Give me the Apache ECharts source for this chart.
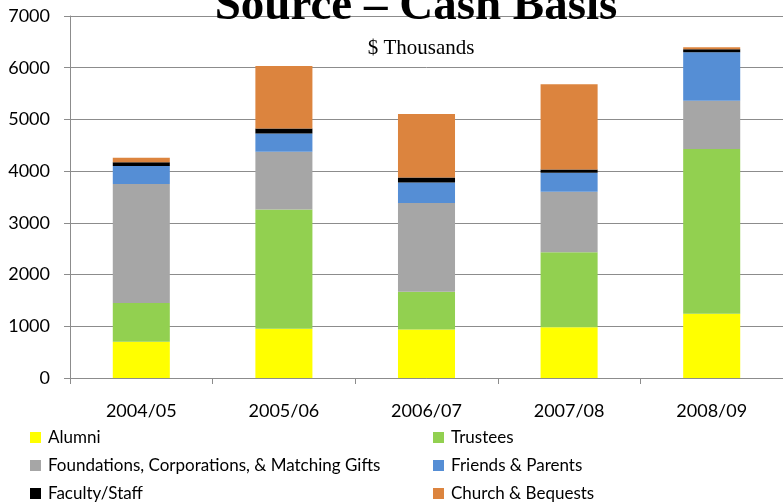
<!DOCTYPE html>
<html>
<head>
<meta charset="utf-8">
<script src="https://cdn.jsdelivr.net/npm/echarts@6/dist/echarts.min.js"></script>
<style>html,body{margin:0;padding:0;background:#fff;}#c{width:783px;height:503px;}</style>
</head>
<body>
<div id="c"></div>
<script>
var categories = ['2004/05', '2005/06', '2006/07', '2007/08', '2008/09'];
var alumni = [700, 950, 940, 980, 1240];
var trustees = [750, 2310, 730, 1450, 3190];
var foundations = [2300, 1115, 1715, 1170, 930];
var friends = [350, 355, 393, 368, 940];
var faculty = [70, 97, 97, 64, 58];
var church = [90, 1205, 1230, 1650, 40];
var yTicks = [0, 1000, 2000, 3000, 4000, 5000, 6000, 7000];

var seriesDefs = [
  ['Alumni', alumni, '#FFFF00'],
  ['Trustees', trustees, '#92D050'],
  ['Foundations, Corporations, & Matching Gifts', foundations, '#A6A6A6'],
  ['Friends & Parents', friends, '#558ED5'],
  ['Faculty/Staff', faculty, '#000000'],
  ['Church & Bequests', church, '#DC843E']
];

var chart = echarts.init(document.getElementById('c'), null, {renderer: 'canvas'});
var legendText = {fontFamily: 'Lato', fontSize: 17, color: '#000', lineHeight: 17, padding: [0, 0, 0, 2]};
chart.setOption({
  animation: false,
  backgroundColor: '#fff',
  title: [
    {text: 'Source – Cash Basis', left: 411, textAlign: 'center', top: -22,
     textStyle: {fontFamily: 'Liberation Serif', fontWeight: 'bold', fontSize: 47, color: '#000'}},
    {text: '$ Thousands', left: 416, textAlign: 'center', top: 33,
     textStyle: {fontFamily: 'Liberation Serif', fontWeight: 'normal', fontSize: 21, color: '#000'}}
  ],
  legend: [
    {data: ['Alumni', 'Foundations, Corporations, & Matching Gifts', 'Faculty/Staff'],
     orient: 'vertical', left: 30, top: 429, height: 120, padding: 0, itemWidth: 11, itemHeight: 11, itemGap: 11,
     textStyle: legendText, icon: 'rect'},
    {data: ['Trustees', 'Friends & Parents', 'Church & Bequests'],
     orient: 'vertical', left: 433, top: 429, height: 120, padding: 0, itemWidth: 11, itemHeight: 11, itemGap: 11,
     textStyle: legendText, icon: 'rect'}
  ],
  grid: {left: 70, top: 16, width: 717, height: 362, containLabel: false},
  xAxis: {
    type: 'category', data: categories,
    axisLine: {lineStyle: {color: '#8C8C8C', width: 1}},
    axisTick: {show: true, length: 6, lineStyle: {color: '#8C8C8C'}},
    axisLabel: {fontFamily: 'Lato', fontSize: 18, color: '#000', margin: 24}
  },
  yAxis: {
    type: 'value', min: yTicks[0], max: yTicks[yTicks.length - 1], interval: 1000,
    axisLine: {show: true, lineStyle: {color: '#8C8C8C', width: 1}},
    axisTick: {show: true, inside: false, length: 6, lineStyle: {color: '#8C8C8C'}},
    axisLabel: {fontFamily: 'Lato', fontSize: 18, color: '#000', margin: 20,
      formatter: function (v) { return String(v); }},
    splitLine: {show: true, lineStyle: {color: '#8C8C8C', width: 1}}
  },
  series: seriesDefs.map(function (d) {
    return {
      name: d[0], type: 'bar', stack: 'total', data: d[1], barWidth: '40%',
      itemStyle: {color: d[2]}
    };
  })
});
</script>
</body>
</html>
